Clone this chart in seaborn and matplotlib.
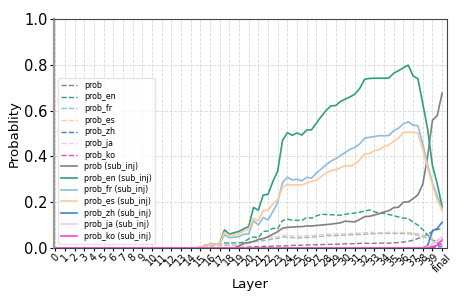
import matplotlib
matplotlib.use("Agg")
import matplotlib.pyplot as plt
import seaborn as sns
import pandas as pd

Z = 0.0
# x positions: two sub-steps per layer, 0..80
steps = list(range(81))
tick_labels = [str(i) for i in range(40)] + ["final"]

prob = [Z]*38 + [0.002, 0.003, 0.004, 0.005, 0.006, 0.007, 0.007, 0.008, 0.009, 0.009,
                 0.010, 0.011, 0.012, 0.012, 0.013, 0.014, 0.014, 0.015, 0.015, 0.016,
                 0.016, 0.017, 0.018, 0.018, 0.019, 0.020, 0.020, 0.020, 0.020, 0.021,
                 0.021, 0.021, 0.022, 0.024, 0.026, 0.029, 0.034, 0.041, 0.050, 0.060,
                 0.072, 0.080, 0.086]
prob_en = [Z]*31 + [0.008, 0.012, 0.014, 0.016, 0.022, 0.021, 0.022, 0.022, 0.025, 0.040,
                    0.048, 0.045, 0.072, 0.074, 0.086, 0.084, 0.120, 0.126, 0.121, 0.121,
                    0.120, 0.133, 0.130, 0.140, 0.147, 0.146, 0.145, 0.144, 0.143, 0.147,
                    0.151, 0.152, 0.156, 0.161, 0.166, 0.158, 0.153, 0.151, 0.146, 0.141,
                    0.135, 0.130, 0.129, 0.112, 0.100, 0.080, 0.057, 0.036, 0.022, 0.015]
prob_fr = [Z]*31 + [0.005, 0.008, 0.009, 0.010, 0.012, 0.012, 0.013, 0.013, 0.015, 0.020,
                    0.026, 0.030, 0.032, 0.034, 0.040, 0.042, 0.048, 0.047, 0.045, 0.044,
                    0.045, 0.046, 0.047, 0.049, 0.051, 0.053, 0.054, 0.054, 0.055, 0.056,
                    0.057, 0.058, 0.059, 0.060, 0.062, 0.062, 0.063, 0.064, 0.064, 0.064,
                    0.063, 0.063, 0.062, 0.060, 0.056, 0.050, 0.043, 0.034, 0.027, 0.022]
prob_es = [Z]*31 + [0.006, 0.010, 0.011, 0.012, 0.015, 0.015, 0.016, 0.016, 0.018, 0.022,
                    0.030, 0.033, 0.040, 0.045, 0.048, 0.048, 0.054, 0.055, 0.053, 0.052,
                    0.052, 0.053, 0.054, 0.056, 0.058, 0.060, 0.060, 0.061, 0.061, 0.062,
                    0.063, 0.064, 0.065, 0.066, 0.069, 0.067, 0.067, 0.068, 0.068, 0.068,
                    0.068, 0.068, 0.067, 0.065, 0.062, 0.056, 0.048, 0.038, 0.030, 0.025]
prob_zh = [Z]*78 + [0.002, 0.004, 0.006]
prob_ja = [Z]*77 + [0.010, 0.020, 0.035, 0.045]
prob_ko = [Z]*77 + [0.003, 0.006, 0.010, 0.015]

prob_sub = [Z]*38 + [0.009, 0.020, 0.024, 0.028, 0.037, 0.041, 0.049, 0.060, 0.071, 0.086,
                     0.090, 0.091, 0.093, 0.093, 0.096, 0.096, 0.098, 0.100, 0.102, 0.104,
                     0.107, 0.110, 0.117, 0.115, 0.114, 0.125, 0.137, 0.138, 0.144, 0.150,
                     0.157, 0.163, 0.176, 0.178, 0.200, 0.201, 0.215, 0.232, 0.278, 0.400,
                     0.557, 0.578, 0.676]
prob_en_sub = [Z]*30 + [0.002, 0.012, 0.016, 0.016, 0.020, 0.079, 0.060, 0.067, 0.072, 0.084,
                        0.093, 0.177, 0.165, 0.231, 0.234, 0.290, 0.336, 0.470, 0.503, 0.492,
                        0.502, 0.493, 0.515, 0.516, 0.545, 0.574, 0.600, 0.620, 0.622, 0.640,
                        0.650, 0.660, 0.672, 0.698, 0.737, 0.740, 0.741, 0.741, 0.741, 0.742,
                        0.763, 0.774, 0.787, 0.798, 0.751, 0.739, 0.630, 0.520, 0.360, 0.280,
                        0.180]
prob_fr_sub = [Z]*30 + [0.002, 0.010, 0.014, 0.015, 0.018, 0.057, 0.045, 0.047, 0.050, 0.060,
                        0.061, 0.120, 0.100, 0.133, 0.122, 0.159, 0.198, 0.286, 0.309, 0.297,
                        0.300, 0.293, 0.308, 0.305, 0.327, 0.345, 0.363, 0.379, 0.390, 0.404,
                        0.417, 0.431, 0.439, 0.455, 0.480, 0.483, 0.487, 0.490, 0.490, 0.491,
                        0.512, 0.523, 0.542, 0.551, 0.536, 0.534, 0.455, 0.362, 0.285, 0.226,
                        0.170]
prob_es_sub = [Z]*30 + [0.002, 0.011, 0.015, 0.015, 0.019, 0.068, 0.054, 0.057, 0.062, 0.074,
                        0.082, 0.130, 0.118, 0.163, 0.166, 0.192, 0.210, 0.264, 0.278, 0.274,
                        0.276, 0.275, 0.283, 0.290, 0.297, 0.312, 0.327, 0.338, 0.341, 0.351,
                        0.359, 0.358, 0.366, 0.385, 0.411, 0.412, 0.425, 0.429, 0.443, 0.450,
                        0.465, 0.480, 0.504, 0.505, 0.505, 0.501, 0.430, 0.350, 0.275, 0.210,
                        0.163]
prob_zh_sub = [Z]*77 + [0.010, 0.075, 0.085, 0.112]
prob_ja_sub = [Z]*77 + [0.005, 0.015, 0.030, 0.050]
prob_ko_sub = [Z]*78 + [0.004, 0.012, 0.035]

series_names = ["prob", "prob_en", "prob_fr", "prob_es", "prob_zh", "prob_ja", "prob_ko"]
dashed_vals = [prob, prob_en, prob_fr, prob_es, prob_zh, prob_ja, prob_ko]
solid_vals = [prob_sub, prob_en_sub, prob_fr_sub, prob_es_sub, prob_zh_sub, prob_ja_sub, prob_ko_sub]
colors = ["#808080", "#2ca078", "#8dbbe3", "#fdcb9c", "#3d85c6", "#f9c8e0", "#ff40d0"]

fig = plt.figure(figsize=(4.68, 3.05), dpi=100)
ax = fig.add_axes([0.116, 0.187, 0.839, 0.751])

for name, vals, c in zip(series_names, dashed_vals, colors):
    df = pd.DataFrame({"x": steps, "y": vals})
    sns.lineplot(data=df, x="x", y="y", ax=ax, color=c, linestyle="--", linewidth=1.0, label=name)
for name, vals, c in zip(series_names, solid_vals, colors):
    df = pd.DataFrame({"x": steps, "y": vals})
    sns.lineplot(data=df, x="x", y="y", ax=ax, color=c, linestyle="-", linewidth=1.2,
                 label=name + " (sub_inj)")

ax.set_xlim(-0.2, 81)
ax.set_ylim(0, 1.0)
ax.set_xticks(steps[::2])
ax.set_xticklabels(tick_labels, rotation=45, fontsize=7)
ax.set_yticks([0.0, 0.2, 0.4, 0.6, 0.8, 1.0])
ax.tick_params(axis="y", labelsize=10.5, length=3, pad=2)
ax.tick_params(axis="x", length=2, pad=1)
ax.set_xlabel("Layer", fontsize=9.5, labelpad=3)
ax.set_ylabel("Probablity", fontsize=9.5, labelpad=2)
ax.grid(True, linestyle="--", color="#d8d8d8", linewidth=0.6)
for s in ["top", "right", "bottom"]:
    ax.spines[s].set_color("#444444")
ax.spines["left"].set_color("#999999")
ax.spines["left"].set_linewidth(1.6)

ax.legend(loc="lower left", fontsize=5.7, labelspacing=0.33, handlelength=2.0,
          handletextpad=0.9, borderpad=0.4, framealpha=0.8, edgecolor="#dddddd")

fig.savefig("out.png", dpi=100)
